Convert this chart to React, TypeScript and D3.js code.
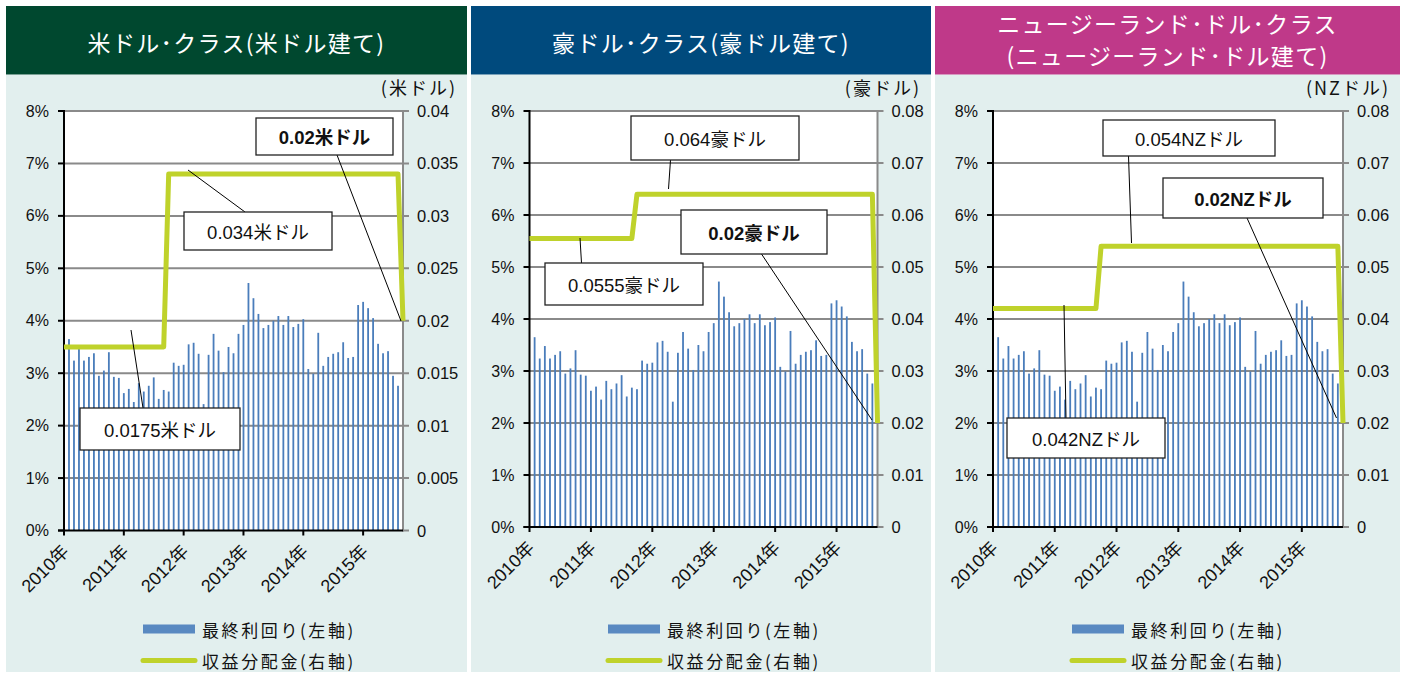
import React from 'react';
import * as d3 from 'd3';

// 最終利回り (%), monthly, Jan 2010 - Jul 2015
const yieldValues = [
  3.65, 3.24, 3.48, 3.24, 3.31, 3.38, 2.95, 3.05, 3.40, 2.93,
  2.91, 2.62, 2.70, 2.45, 2.81, 2.65, 2.76, 2.92, 2.51, 2.68,
  2.65, 3.20, 3.14, 3.16, 3.55, 3.58, 3.37, 2.41, 3.35, 3.75,
  3.43, 3.02, 3.50, 3.38, 3.75, 3.92, 4.72, 4.43, 4.13, 3.86,
  3.92, 4.00, 4.09, 3.92, 4.09, 3.88, 3.94, 4.03, 3.08, 2.99,
  3.77, 3.14, 3.31, 3.37, 3.40, 3.59, 3.29, 3.31, 4.30, 4.36,
  4.24, 4.05, 3.56, 3.38, 3.42, 2.95, 2.76,
];
const barMonths = d3.timeMonth.range(new Date(2010, 0, 1), new Date(2015, 7, 1));

const yearLabels = ['2010年', '2011年', '2012年', '2013年', '2014年', '2015年'];
const yearMonths = [0, 12, 24, 36, 48, 60];
const totalMonths = 68;

// 収益分配金 step points (month index, value)
const distMonths = [0, 20, 21, 67, 68];
const usdDist = [0.0175, 0.0175, 0.034, 0.034, 0.02];
const audDist = [0.0555, 0.0555, 0.064, 0.064, 0.02];
const nzdDist = [0.042, 0.042, 0.054, 0.054, 0.02];

const leftTicks = [0, 1, 2, 3, 4, 5, 6, 7, 8];
const usdRightTicks = [0, 0.005, 0.01, 0.015, 0.02, 0.025, 0.03, 0.035, 0.04];
const otherRightTicks = [0, 0.01, 0.02, 0.03, 0.04, 0.05, 0.06, 0.07, 0.08];

const FONT = '"Liberation Sans", Arial, "Noto Sans CJK JP", sans-serif';
const JP = '"Noto Sans CJK JP", "Liberation Sans", sans-serif';
const BAR = '#4a7dbb';
const LINE = '#bfd22b';

type Callout = { text: string; bold?: boolean; x: number; y: number; w: number; h: number; from: number[]; to: number[] };

const panels = [
  {
    x: 6, w: 461, color: '#00482f',
    title: ['米ドル･クラス(米ドル建て)'],
    unit: '(米ドル)',
    plotLeft: 64, plotRight: 403, plotTop: 111, plotBottom: 530.5,
    rightMax: 0.04, rightTicks: usdRightTicks, dist: usdDist,
    callouts: [
      { text: '0.02米ドル', bold: true, x: 256, y: 118, w: 137, h: 37, from: [337, 155], to: [401, 321] },
      { text: '0.034米ドル', x: 184, y: 212, w: 148, h: 38, from: [245, 212], to: [188, 170] },
      { text: '0.0175米ドル', x: 80, y: 408, w: 160, h: 42, from: [143, 408], to: [131, 330] },
    ] as Callout[],
  },
  {
    x: 471, w: 460, color: '#004a7d',
    title: ['豪ドル･クラス(豪ドル建て)'],
    unit: '(豪ドル)',
    plotLeft: 529.5, plotRight: 877.5, plotTop: 111, plotBottom: 527,
    rightMax: 0.08, rightTicks: otherRightTicks, dist: audDist,
    callouts: [
      { text: '0.064豪ドル', x: 631, y: 116, w: 168, h: 44, from: [670.5, 160], to: [668.5, 189] },
      { text: '0.02豪ドル', bold: true, x: 681, y: 210, w: 146, h: 44, from: [761.5, 254], to: [872, 420] },
      { text: '0.0555豪ドル', x: 545, y: 263, w: 158, h: 42, from: [580, 238], to: [581.5, 263] },
    ] as Callout[],
  },
  {
    x: 935, w: 465, color: '#bf3989',
    title: ['ニュージーランド･ドル･クラス', '(ニュージーランド･ドル建て)'],
    unit: '(NZドル)',
    plotLeft: 993, plotRight: 1343, plotTop: 111, plotBottom: 527,
    rightMax: 0.08, rightTicks: otherRightTicks, dist: nzdDist,
    callouts: [
      { text: '0.054NZドル', x: 1103, y: 120, w: 172, h: 36, from: [1128.5, 156], to: [1131.5, 243] },
      { text: '0.02NZドル', bold: true, x: 1163, y: 178, w: 160, h: 40, from: [1247, 218], to: [1336.5, 418] },
      { text: '0.042NZドル', x: 1007, y: 418, w: 158, h: 40, from: [1064, 305], to: [1066, 418] },
    ] as Callout[],
  },
];

function Panel({ p }: { p: (typeof panels)[number] }) {
  const x = d3.scaleLinear().domain([0, totalMonths]).range([p.plotLeft, p.plotRight]);
  const y = d3.scaleLinear().domain([0, 8]).range([p.plotBottom, p.plotTop]);
  const yR = d3.scaleLinear().domain([0, p.rightMax]).range([p.plotBottom, p.plotTop]);
  const line = d3.line<number>()
    .x((_, i) => x(distMonths[i]))
    .y((d) => yR(d));

  const headerH = 68.7;
  return (
    <g>
      <rect x={p.x} y={6} width={p.w} height={headerH} fill={p.color} />
      <rect x={p.x} y={6 + headerH} width={p.w} height={672 - 6 - headerH} fill="#e2efee" />
      {p.title.map((t, i) => (
        <text key={i} x={p.x + p.w / 2} y={p.title.length === 1 ? 42 : 23 + i * 32}
          textAnchor="middle" dominantBaseline="central" fill="#fff"
          fontFamily={JP} fontSize={23} letterSpacing={1.3}>{t}</text>
      ))}
      <text x={p.x + p.w - 10} y={87} textAnchor="end" dominantBaseline="central"
        fontFamily={JP} fontSize={18} letterSpacing={2} fill="#111">{p.unit}</text>

      <rect x={p.plotLeft} y={p.plotTop} width={p.plotRight - p.plotLeft} height={p.plotBottom - p.plotTop} fill="#fff" />
      {leftTicks.slice(1).map((t) => (
        <line key={t} x1={p.plotLeft} x2={p.plotRight + 6} y1={y(t)} y2={y(t)} stroke="#8a8a8a" strokeWidth={2} />
      ))}
      {yieldValues.map((v, i) => (
        <rect key={barMonths[i].getTime()} x={x(i + 1) - 0.9} width={1.8} y={y(v)} height={y(0) - y(v)} fill={BAR} />
      ))}
      {/* right axis */}
      <line x1={p.plotRight} x2={p.plotRight} y1={p.plotTop} y2={p.plotBottom + 1} stroke="#8a8a8a" strokeWidth={2} />
      <line x1={p.plotRight} x2={p.plotRight + 6} y1={p.plotBottom} y2={p.plotBottom} stroke="#8a8a8a" strokeWidth={2} />
      {p.rightTicks.map((t) => (
        <text key={t} x={p.plotRight + 14} y={yR(t)} dominantBaseline="central" fontFamily={FONT} fontSize={16.5} fill="#111">{String(t)}</text>
      ))}
      {/* left axis */}
      <line x1={p.plotLeft} x2={p.plotLeft} y1={p.plotTop - 1} y2={p.plotBottom} stroke="#000" strokeWidth={2} />
      {leftTicks.map((t) => (
        <g key={t}>
          <line x1={p.plotLeft - 6} x2={p.plotLeft} y1={y(t)} y2={y(t)} stroke="#000" strokeWidth={2} />
          <text x={p.plotLeft - 15} y={y(t)} textAnchor="end" dominantBaseline="central" fontFamily={FONT} fontSize={16} fill="#111">{t}%</text>
        </g>
      ))}
      {/* bottom axis */}
      <line x1={p.plotLeft - 6} x2={p.plotRight} y1={p.plotBottom} y2={p.plotBottom} stroke="#000" strokeWidth={2} />
      {yearMonths.map((m, i) => (
        <g key={m}>
          <line x1={x(m)} x2={x(m)} y1={p.plotBottom} y2={p.plotBottom + 5} stroke="#000" strokeWidth={2} />
          <text transform={`translate(${x(m) + 6},${p.plotBottom + 22}) rotate(-45)`} textAnchor="end"
            fontFamily={FONT} fontSize={18} fill="#111">{yearLabels[i]}</text>
        </g>
      ))}

      <path d={line(p.dist) ?? ''} fill="none" stroke={LINE} strokeWidth={5} strokeLinejoin="round" />

      {p.callouts.map((c, i) => (
        <g key={i}>
          <line x1={c.from[0]} y1={c.from[1]} x2={c.to[0]} y2={c.to[1]} stroke="#000" strokeWidth={1} />
          <rect x={c.x} y={c.y} width={c.w} height={c.h} fill="#fff" stroke="#222" strokeWidth={1.3} />
          <text x={c.x + c.w / 2} y={c.y + c.h / 2 + 1} textAnchor="middle" dominantBaseline="central"
            fontFamily={FONT} fontSize={18.5} fontWeight={c.bold ? 'bold' : 'normal'} fill="#111">{c.text}</text>
        </g>
      ))}

      {/* legend */}
      <rect x={p.x + 137} y={624.5} width={52} height={9} fill={BAR} opacity={0.9} />
      <text x={p.x + 196} y={629.5} dominantBaseline="central" fontFamily={JP} fontSize={17} letterSpacing={2.6} fill="#111">最終利回り(左軸)</text>
      <line x1={p.x + 137} x2={p.x + 189} y1={660.5} y2={660.5} stroke={LINE} strokeWidth={5} strokeLinecap="round" />
      <text x={p.x + 196} y={660.5} dominantBaseline="central" fontFamily={JP} fontSize={17} letterSpacing={2.6} fill="#111">収益分配金(右軸)</text>
    </g>
  );
}

export default function App() {
  return (
    <svg width={1406} height={675} style={{ position: 'absolute', left: 0, top: 0, background: '#fff' }}>
      {panels.map((p, i) => <Panel key={i} p={p} />)}
    </svg>
  );
}
